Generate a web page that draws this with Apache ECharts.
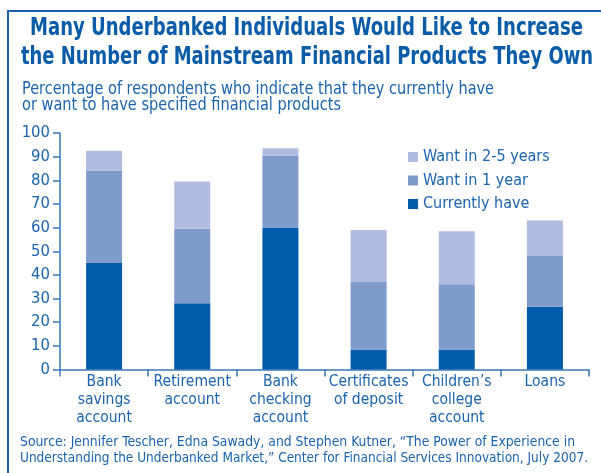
<!DOCTYPE html>
<html><head><meta charset="utf-8">
<script src="https://cdn.jsdelivr.net/npm/echarts@6/dist/echarts.min.js"></script>
<style>html,body{margin:0;padding:0;background:#fff}#c{width:601px;height:473px}</style>
</head><body><div id="c"></div>
<script>
const categories = ['Bank\nsavings\naccount','Retirement\naccount','Bank\nchecking\naccount','Certificates\nof deposit','Children\u2019s\ncollege\naccount','Loans'];
const currentlyHave = [45, 28, 60, 8.5, 8.5, 26.5];
const wantIn1Year = [39, 31.5, 30.5, 28.5, 27.5, 21.5];
const wantIn2to5Years = [8.5, 20, 3, 22, 22.5, 15];
const legendOrder = ['Want in 2-5 years','Want in 1 year','Currently have'];
const titleLines = ['Many Underbanked Individuals Would Like to Increase','the Number of Mainstream Financial Products They Own'];
const subtitleLines = ['Percentage of respondents who indicate that they currently have','or want to have specified financial products'];
const sourceLines = ['Source: Jennifer Tescher, Edna Sawady, and Stephen Kutner, \u201cThe Power of Experience in','Understanding the Underbanked Market,\u201d Center for Financial Services Innovation, July 2007.'];

const FONT = '"DejaVu Sans Condensed","Liberation Sans Narrow",sans-serif';
const TXT = '#1a64ad';
const AX = '#3a78b8';
const C1 = '#005baa', C2 = '#7f9bcb', C3 = '#afbcdf';

const mctx = document.createElement('canvas').getContext('2d');
function measure(text, font){ mctx.font = font; return mctx.measureText(text).width; }
function line(text, font, fill, x, yMid, width, align){
  const s = width / measure(text, font);
  return {type:'text', x:x, y:yMid, scaleX:s, scaleY:1,
    style:{text:text, font:font, fill:fill, align:align||'left', verticalAlign:'middle'}};
}
const tFont = 'bold 24px ' + FONT;
const sFont = '17px ' + FONT;
const srcFont = '14px ' + FONT;

const chart = echarts.init(document.getElementById('c'), null, {renderer:'canvas'});
chart.setOption({
  animation:false,
  textStyle:{fontFamily:FONT},
  graphic:[
    {type:'polyline', shape:{points:[[8,480],[8,11],[610,11]]}, style:{stroke:'#1a64ad', lineWidth:2, fill:null}},
    line(titleLines[0], tFont, '#0a5ca8', 306.5, 28.5, 553, 'center'),
    line(titleLines[1], tFont, '#0a5ca8', 307, 57.5, 572, 'center'),
    line(subtitleLines[0], sFont, TXT, 22, 89.5, 472),
    line(subtitleLines[1], sFont, TXT, 22, 105.5, 319),
    line(sourceLines[0], srcFont, TXT, 20, 442, 555),
    line(sourceLines[1], srcFont, TXT, 20, 458, 568)
  ],
  legend:{
    orient:'vertical', left:403, top:142, itemWidth:10, itemHeight:10, itemGap:3.5,
    icon:'rect',
    data:legendOrder,
    textStyle:{color:TXT, fontSize:16, lineHeight:20, fontFamily:FONT}
  },
  grid:{left:60, right:12, top:133, bottom:103.5, containLabel:false},
  xAxis:{
    type:'category', data:categories,
    axisLine:{show:true, lineStyle:{color:AX, width:1.5}},
    axisTick:{show:true, length:7, lineStyle:{color:AX, width:1.5}},
    axisLabel:{color:TXT, fontSize:15.5, lineHeight:17.8, fontFamily:FONT, margin:4, interval:0}
  },
  yAxis:{
    type:'value', min:0, max:100, interval:10,
    splitLine:{show:false},
    axisLine:{show:true, lineStyle:{color:AX, width:1.5}},
    axisTick:{show:true, length:7, lineStyle:{color:AX, width:1.5}},
    axisLabel:{color:TXT, fontSize:16.5, fontFamily:FONT, margin:10}
  },
  series:[
    {name:'Currently have', type:'bar', stack:'a', data:currentlyHave, barWidth:36, itemStyle:{color:C1}},
    {name:'Want in 1 year', type:'bar', stack:'a', data:wantIn1Year, barWidth:36, itemStyle:{color:C2}},
    {name:'Want in 2-5 years', type:'bar', stack:'a', data:wantIn2to5Years, barWidth:36, itemStyle:{color:C3}}
  ]
});
</script></body></html>
